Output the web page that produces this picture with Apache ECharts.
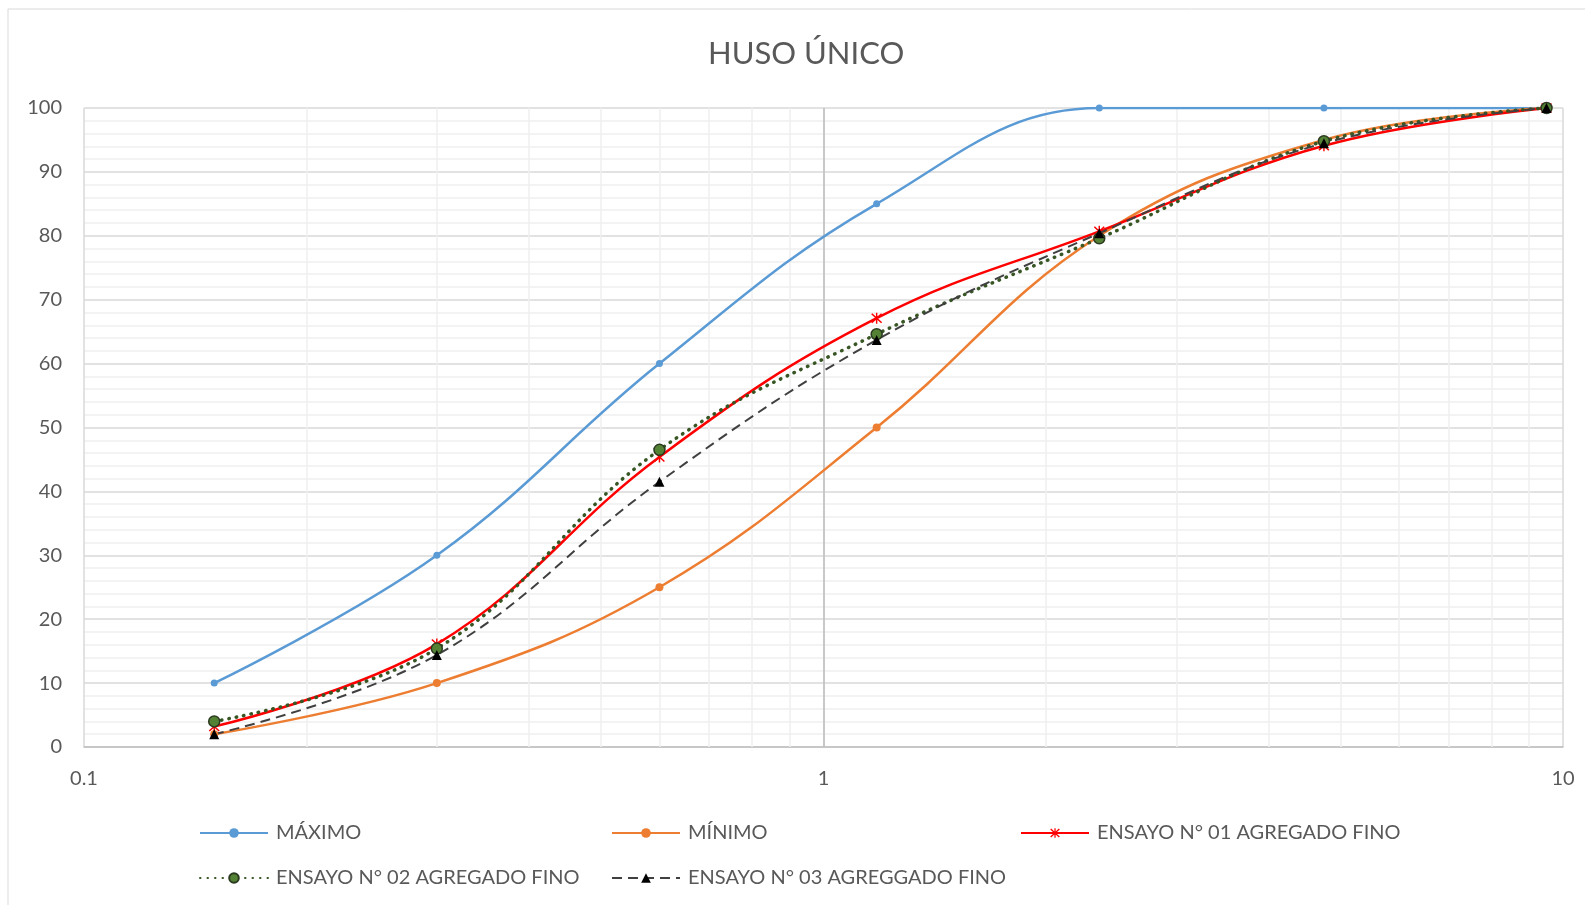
<!DOCTYPE html>
<html>
<head>
<meta charset="utf-8">
<title>HUSO ÚNICO</title>
<script src="https://cdn.jsdelivr.net/npm/echarts@6/dist/echarts.min.js"></script>
<style>
  html, body { margin: 0; padding: 0; background: #fff; }
  #chart { width: 1585px; height: 905px; }
</style>
</head>
<body>
<div id="chart"></div>
<script>
// data
var sieveSizes = [0.15, 0.3, 0.6, 1.18, 2.36, 4.75, 9.5];
var maximo = [10, 30, 60, 85, 100, 100, 100];
var minimo = [2, 10, 25, 50, 80, 95, 100];
var ensayo01 = [3.2, 16.1, 45.4, 67.1, 80.7, 94.1, 100];
var ensayo02 = [4.0, 15.4, 46.5, 64.6, 79.6, 94.8, 100];
var ensayo03 = [2.0, 14.4, 41.5, 63.7, 80.4, 94.5, 100];
var minorX = [0.2, 0.3, 0.4, 0.5, 0.6, 0.7, 0.8, 0.9, 2, 3, 4, 5, 6, 7, 8, 9];

var names = ['MÁXIMO', 'MÍNIMO', 'ENSAYO N° 01 AGREGADO FINO', 'ENSAYO N° 02 AGREGADO FINO', 'ENSAYO N° 03 AGREGGADO FINO'];

function pairs(vals) {
  return sieveSizes.map(function (x, i) { return [x, vals[i]]; });
}

var chartDom = document.getElementById('chart');
var myChart = echarts.init(chartDom);
var font = 'Lato, "DejaVu Sans", sans-serif';
var starPath = 'path://M4.4,0 L5.6,0 L5.6,10 L4.4,10 Z M0.4,1.3 L1.3,0.4 L9.6,8.7 L8.7,9.6 Z M8.7,0.4 L9.6,1.3 L1.3,9.6 L0.4,8.7 Z';

function legendAt(name, left, top) {
  return {
    data: [name],
    left: left,
    top: top,
    itemWidth: 68,
    itemHeight: 12,
    itemGap: 0,
    textStyle: { color: '#595959', fontSize: 20, fontFamily: font, padding: [0, 0, 0, 3] }
  };
}

var option = {
  animation: false,
  title: {
    text: 'HUSO ÚNICO',
    left: 703,
    top: 33,
    textStyle: { color: '#595959', fontSize: 31, fontWeight: 'normal', fontFamily: font }
  },
  graphic: [{
    type: 'rect',
    shape: { x: 8, y: 9, width: 1600, height: 920 },
    style: { fill: 'none', stroke: '#d9d9d9', lineWidth: 1 },
    silent: true
  }],
  legend: [
    legendAt(names[0], 194, 818),
    legendAt(names[1], 606, 818),
    legendAt(names[2], 1015, 818),
    legendAt(names[3], 194, 863),
    legendAt(names[4], 606, 863)
  ],
  grid: { left: 84, right: 22, top: 108, bottom: 158 },
  xAxis: {
    type: 'log',
    logBase: 10,
    min: 0.1,
    max: 10,
    axisLine: { show: true, lineStyle: { color: '#bfbfbf', width: 1.5 } },
    axisTick: { show: false },
    axisLabel: { color: '#595959', fontSize: 20, fontFamily: font, margin: 22 },
    splitLine: { show: true, lineStyle: { color: '#d9d9d9', width: 1.5 } }
  },
  yAxis: {
    type: 'value',
    min: 0,
    max: 100,
    interval: 10,
    axisLine: { show: false },
    axisTick: { show: false },
    axisLabel: { color: '#595959', fontSize: 20, fontFamily: font, margin: 22 },
    splitLine: { show: true, lineStyle: { color: '#d9d9d9', width: 1.5 } },
    minorTick: { show: false, splitNumber: 5 },
    minorSplitLine: { show: true, lineStyle: { color: '#efefef', width: 1.5 } }
  },
  series: [
    {
      name: 'grid-minor',
      type: 'line',
      data: [],
      z: 1,
      silent: true,
      markLine: {
        z: 1,
        silent: true,
        symbol: ['none', 'none'],
        label: { show: false },
        lineStyle: { color: '#efefef', width: 1.5, type: 'solid' },
        data: minorX.map(function (v) { return { xAxis: v }; }).concat([
          { xAxis: 1, lineStyle: { color: '#bfbfbf', width: 1.5, type: 'solid' } }
        ])
      }
    },
    {
      name: names[0],
      type: 'line',
      smooth: 0.4,
      data: pairs(maximo),
      color: '#5b9bd5',
      symbol: 'circle',
      symbolSize: 7,
      lineStyle: { width: 2.5 }
    },
    {
      name: names[1],
      type: 'line',
      smooth: 0.4,
      data: pairs(minimo),
      color: '#ed7d31',
      symbol: 'circle',
      symbolSize: 8,
      lineStyle: { width: 2.5 }
    },
    {
      name: names[2],
      type: 'line',
      smooth: 0.4,
      data: pairs(ensayo01),
      color: '#ff0000',
      symbol: starPath,
      symbolSize: 11,
      lineStyle: { width: 2.5 }
    },
    {
      name: names[3],
      type: 'line',
      smooth: 0.4,
      data: pairs(ensayo02),
      color: '#375623',
      symbol: 'circle',
      symbolSize: 11,
      itemStyle: { color: '#548235', borderColor: '#2b3a20', borderWidth: 1.5 },
      lineStyle: { width: 3.5, type: [0.5, 7], cap: 'round', color: '#375623' }
    },
    {
      name: names[4],
      type: 'line',
      smooth: 0.4,
      data: pairs(ensayo03),
      color: '#000000',
      symbol: 'triangle',
      symbolSize: 10,
      lineStyle: { width: 2, type: [10, 6], color: '#404040' }
    }
  ]
};

option && myChart.setOption(option);
</script>
</body>
</html>
